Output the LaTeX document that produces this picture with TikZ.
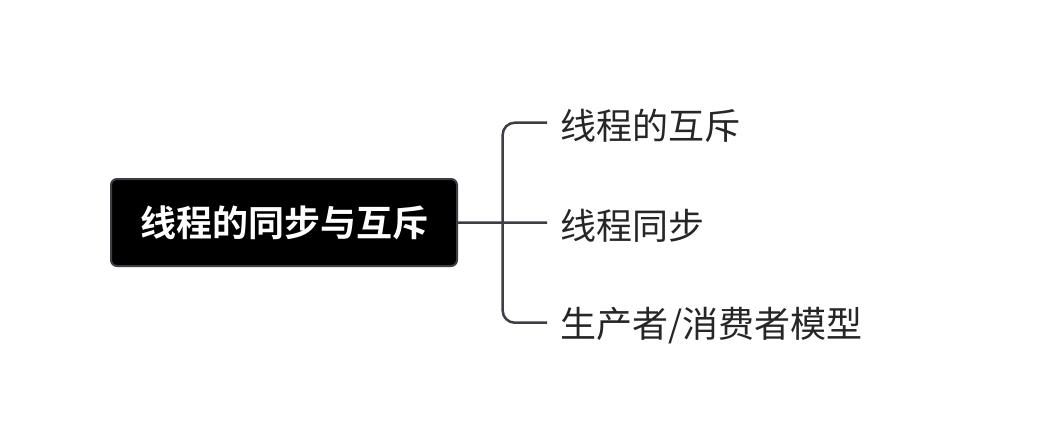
\documentclass[tikz,border=0pt]{standalone}
\usepackage{fontspec}
\newfontfamily\cjk{Noto Sans CJK SC}
\newfontfamily\cjkbold{Noto Sans CJK SC Bold}
\definecolor{linec}{HTML}{3C3F45}
\definecolor{txtc}{HTML}{262626}
\begin{document}
\begin{tikzpicture}[x=1pt,y=-1pt,
  rootbox/.style={draw=linec, line width=2pt, fill=black, rounded corners=6pt,
    minimum width=346pt, minimum height=87pt, inner sep=0pt,
    text=white, font=\cjkbold\fontsize{36}{40}\selectfont},
  child/.style={anchor=west, inner sep=0pt, text=txtc, font=\cjk\fontsize{36}{40}\selectfont},
  conn/.style={draw=linec, line width=2.5pt}]
\useasboundingbox[fill=white] (0,0) rectangle (1061,432);
\node[rootbox] (root) at (284,222.5) {线程的同步与互斥};
\coordinate (j) at (502.7,222.7);
\coordinate (t) at (502.7,122.7);
\coordinate (b) at (502.7,322.7);
\coordinate (e1) at (547,122.7);
\coordinate (e2) at (547,222.7);
\coordinate (e3) at (547,322.7);
\node[child] (c1) at (560,126) {线程的互斥};
\node[child] (c2) at (560,226) {线程同步};
\node[child] (c3) at (560,326) {生产者/消费者模型};
\draw[conn] (root.east) -- (e2);
\draw[conn, rounded corners=12pt] (e1) -- (t) -- (b) -- (e3);
\end{tikzpicture}
\end{document}
